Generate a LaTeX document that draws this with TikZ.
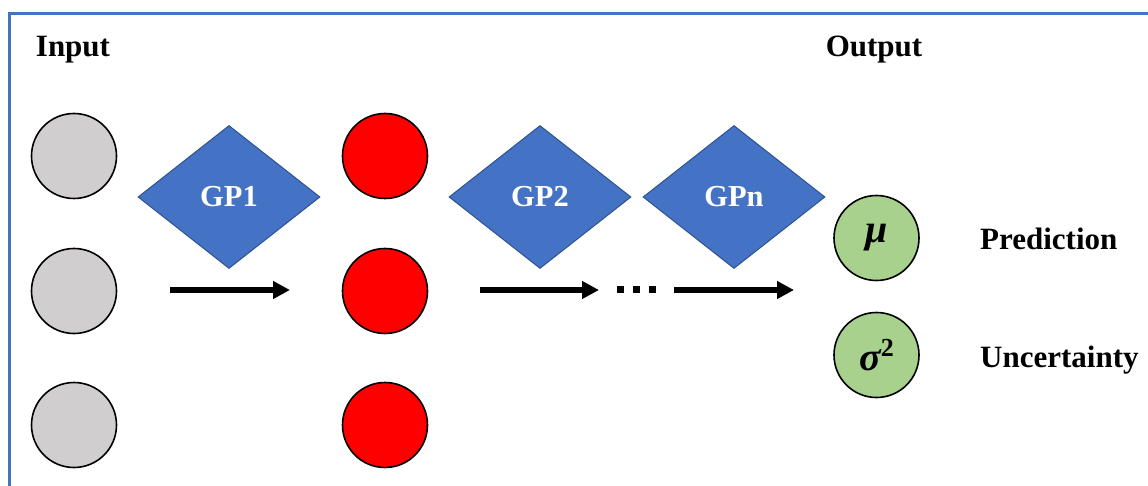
\documentclass[tikz,border=0pt]{standalone}
\usepackage{fontspec}
\setmainfont{Liberation Serif}
\usetikzlibrary{shapes.geometric,arrows.meta}
\definecolor{frameblue}{RGB}{68,114,196}
\definecolor{gpblue}{RGB}{68,114,196}
\definecolor{gpedge}{RGB}{47,82,143}
\definecolor{ingray}{RGB}{208,206,206}
\definecolor{outgreen}{RGB}{169,209,142}
\begin{document}
\begin{tikzpicture}[x=1pt,y=-1pt,
  lbl/.style={font=\fontsize{31}{36}\selectfont\bfseries, inner sep=0pt},
  ball/.style={circle, draw=black, line width=1.6pt, minimum size=85pt, inner sep=0pt},
  gp/.style={diamond, fill=gpblue, draw=gpedge, line width=1pt, minimum width=182pt, minimum height=143pt, aspect=1.27, inner sep=0pt, text=white, font=\fontsize{30.5}{36}\selectfont\bfseries},
  flow/.style={line width=5.5pt, -{Triangle[length=17pt,width=17pt]}},
  dot/.style={fill=black, minimum size=7pt, inner sep=0pt}
]
\clip (0,0) rectangle (1148,486);
\fill[white] (0,0) rectangle (1148,486);
\draw[frameblue, line width=3pt] (9,520) -- (9,14) -- (1170,14);

\node[lbl, anchor=base] (input) at (73,57) {Input};
\node[lbl, anchor=base] (output) at (874,57) {Output};

\node[ball, fill=ingray] (i1) at (74,156) {};
\node[ball, fill=ingray] (i2) at (74,291) {};
\node[ball, fill=ingray] (i3) at (74,425) {};

\node[ball, fill=red] (h1) at (385,156) {};
\node[ball, fill=red] (h2) at (385,291) {};
\node[ball, fill=red] (h3) at (385,425) {};

\node[gp] (gp1) at (229,197) {GP1};
\node[gp] (gp2) at (540,197) {GP2};
\node[gp] (gpn) at (734,197) {GPn};

\node[ball, fill=outgreen] (mu) at (876.5,238) {\fontsize{40}{46}\selectfont\bfseries\itshape μ};
\node[ball, fill=outgreen] (sig) at (876.5,355) {\fontsize{40}{46}\selectfont\bfseries\itshape σ\raisebox{0.36em}{\fontsize{26}{30}\selectfont\upshape 2}};

\node[lbl, anchor=base west] (pred) at (980,250) {Prediction};
\node[lbl, anchor=base west] (unc) at (980,367) {Uncertainty};

\coordinate (a1s) at (170,290);
\coordinate (a1e) at (290,290);
\coordinate (a2s) at (480,290);
\coordinate (a2e) at (599,290);
\coordinate (a3s) at (674,290);
\coordinate (a3e) at (794,290);
\draw[flow] (a1s) -- (a1e);
\draw[flow] (a2s) -- (a2e);
\draw[flow] (a3s) -- (a3e);

\node[dot] (d1) at (620,289.5) {};
\node[dot] (d2) at (636,289.5) {};
\node[dot] (d3) at (652,289.5) {};
\end{tikzpicture}
\end{document}
